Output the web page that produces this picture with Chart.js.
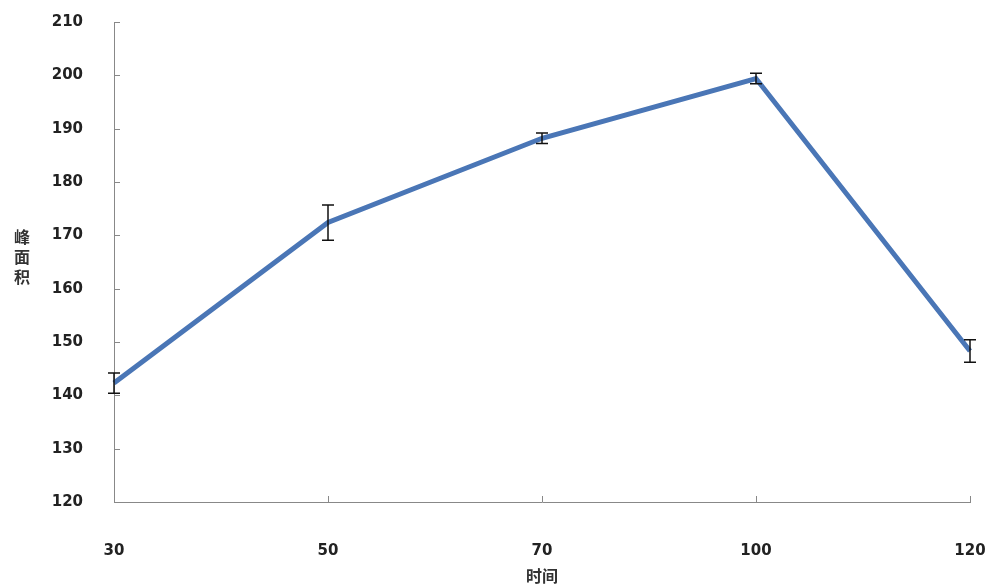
<!DOCTYPE html>
<html>
<head>
<meta charset="utf-8">
<script src="https://cdn.jsdelivr.net/npm/chart.js@4"></script>
<style>
  html, body { margin: 0; padding: 0; background: #fff; }
  #wrap { width: 992px; height: 587px; }
</style>
</head>
<body>
<div id="wrap"><canvas id="peakChart"></canvas></div>
<script>
// time points and peak area readings
const timeLabels = ['30', '50', '70', '100', '120'];
const peakArea = [142.3, 172.4, 188.2, 199.4, 148.3];
const peakError = [1.9, 3.3, 1.0, 1.0, 2.1];
const yMin = 120;
const yMax = 210;
const yStep = 10;
const yTitle = ['峰', '面', '积'];
const xTitle = '时间';

const tickFont = { family: 'DejaVu Sans', size: 15, weight: 'bold' };
const cjkFont = 'bold 16px "Noto Sans CJK SC"';

// error bars, inward tick marks and the axis titles
const extrasPlugin = {
    id: 'extras',
    afterDatasetsDraw(chart) {
        const ctx = chart.ctx;
        const x = chart.scales.x;
        const y = chart.scales.y;
        ctx.save();
        ctx.strokeStyle = '#111';
        ctx.lineWidth = 1.5;
        peakArea.forEach((v, i) => {
            const px = x.getPixelForValue(i);
            const top = y.getPixelForValue(v + peakError[i]);
            const bot = y.getPixelForValue(v - peakError[i]);
            ctx.beginPath();
            ctx.moveTo(px, top); ctx.lineTo(px, bot);
            ctx.moveTo(px - 6, top); ctx.lineTo(px + 6, top);
            ctx.moveTo(px - 6, bot); ctx.lineTo(px + 6, bot);
            ctx.stroke();
        });
        ctx.restore();
    },
    afterDraw(chart) {
        const ctx = chart.ctx;
        const x = chart.scales.x;
        const y = chart.scales.y;
        const area = chart.chartArea;
        ctx.save();
        ctx.strokeStyle = '#888';
        ctx.lineWidth = 1;
        y.ticks.forEach((t, i) => {
            const py = Math.round(y.getPixelForTick(i)) + 0.5;
            ctx.beginPath();
            ctx.moveTo(area.left, py); ctx.lineTo(area.left + 6, py);
            ctx.stroke();
        });
        x.ticks.forEach((t, i) => {
            const px = Math.round(x.getPixelForTick(i)) + 0.5;
            ctx.beginPath();
            ctx.moveTo(px, area.bottom); ctx.lineTo(px, area.bottom - 6);
            ctx.stroke();
        });
        ctx.fillStyle = '#333';
        ctx.font = cjkFont;
        ctx.textAlign = 'center';
        ctx.textBaseline = 'middle';
        yTitle.forEach((ch, i) => {
            ctx.fillText(ch, 22, 237 + i * 20);
        });
        ctx.fillText(xTitle, (area.left + area.right) / 2, 576);
        ctx.restore();
    }
};

new Chart(document.getElementById('peakChart'), {
    type: 'line',
    data: {
        labels: timeLabels,
        datasets: [{
            data: peakArea,
            borderColor: '#4a76b6',
            borderWidth: 5,
            pointRadius: 0,
            tension: 0,
            fill: false
        }]
    },
    options: {
        responsive: true,
        maintainAspectRatio: false,
        animation: false,
        layout: { padding: { top: 22, right: 22, left: 0, bottom: 0 } },
        plugins: {
            legend: { display: false },
            tooltip: { enabled: false }
        },
        scales: {
            x: {
                offset: false,
                grid: { display: false, drawTicks: false },
                border: { display: true, color: '#888', width: 1 },
                ticks: { font: tickFont, color: '#222', padding: 40, maxRotation: 0 },
                afterFit(scale) {
                    scale.height = 85;
                    scale.paddingLeft = 0;
                    scale.paddingRight = 0;
                }
            },
            y: {
                min: yMin,
                max: yMax,
                grid: { display: false, drawTicks: false },
                border: { display: true, color: '#888', width: 1 },
                ticks: { stepSize: yStep, font: tickFont, color: '#222', padding: 31 },
                afterFit(scale) {
                    scale.width = 114;
                    scale.paddingTop = 0;
                    scale.paddingBottom = 0;
                }
            }
        }
    },
    plugins: [extrasPlugin]
});
</script>
</body>
</html>
